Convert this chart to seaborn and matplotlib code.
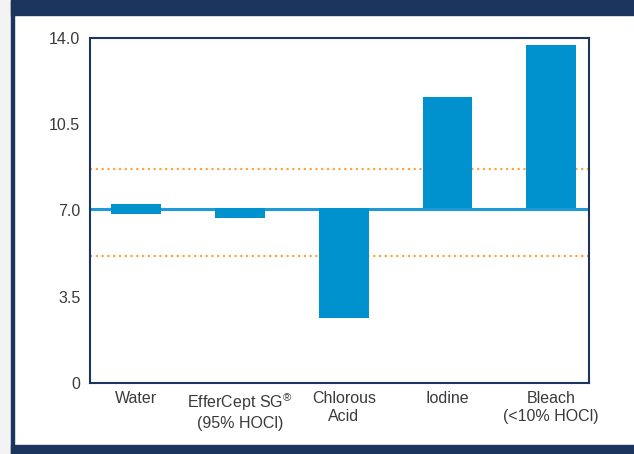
import matplotlib
matplotlib.use("Agg")
import matplotlib.pyplot as plt
from matplotlib.patches import Rectangle
import seaborn as sns
import pandas as pd

categories = ["Water", "EfferCept SG$^{®}$\n(95% HOCl)", "Chlorous\nAcid", "Iodine", "Bleach\n(<10% HOCl)"]
bar_low = [6.87, 6.71, 2.65, 7.10, 7.10]
bar_high = [7.26, 7.10, 7.10, 11.6, 13.7]
neutral_ph = 7.05
band_upper = 8.67
band_lower = 5.15
y_ticks = [0, 3.5, 7.0, 10.5, 14.0]
y_tick_labels = ["0", "3.5", "7.0", "10.5", "14.0"]

NAVY = "#1b355f"
BAR = "#0092cf"
LINE = "#1f9ad6"
ORANGE = "#f5a843"
TEXT = "#3a3a3a"

sns.set_theme(style="white")
plt.rcParams["font.family"] = ["Liberation Sans", "DejaVu Sans"]
plt.rcParams["mathtext.fontset"] = "custom"
plt.rcParams["mathtext.rm"] = "Liberation Sans"
plt.rcParams["mathtext.it"] = "Liberation Sans"

df = pd.DataFrame({"cat": categories,
                   "span": [h - l for l, h in zip(bar_low, bar_high)]})

fig = plt.figure(figsize=(6.34, 4.54), dpi=100, facecolor="white")
W, H = 634, 454
# frame decorations
fig.patches.append(Rectangle((0, 0), 11 / W, 1, transform=fig.transFigure, color="#f3f3f3", zorder=0))
fig.patches.append(Rectangle((11 / W, 0), 3 / W, 1, transform=fig.transFigure, color=NAVY, zorder=0))
fig.patches.append(Rectangle((11 / W, 1 - 15 / H), 1, 15 / H, transform=fig.transFigure, color=NAVY, zorder=0))
fig.patches.append(Rectangle((11 / W, 0), 1, 9 / H, transform=fig.transFigure, color=NAVY, zorder=0))

ax = fig.add_axes([90 / W, (H - 383) / H, 499 / W, 345 / H])
sns.barplot(data=df, x="cat", y="span", color=BAR, saturation=1, width=0.48, ax=ax, zorder=3)
for patch, low in zip(ax.patches, bar_low):
    patch.set_y(low)
    patch.set_edgecolor("none")

ax.axhline(neutral_ph, color=LINE, lw=2.2, zorder=2)
ax.axhline(band_upper, color=ORANGE, lw=1.6, ls=(0, (1, 1.6)), zorder=1)
ax.axhline(band_lower, color=ORANGE, lw=1.6, ls=(0, (1, 1.6)), zorder=1)

ax.set_xlim(-0.447, 4.364)
ax.set_ylim(0, 14)
ax.set_yticks(y_ticks)
ax.set_yticklabels(y_tick_labels)
ax.set_xlabel("")
ax.set_ylabel("")
ax.tick_params(axis="both", length=0, labelsize=11.5, colors=TEXT)
ax.tick_params(axis="y", pad=7)
ax.tick_params(axis="x", pad=6)
for lab in ax.get_xticklabels():
    lab.set_linespacing(1.25)
for s in ax.spines.values():
    s.set_visible(True)
    s.set_color(NAVY)
    s.set_linewidth(1.5)

fig.savefig("out.png", dpi=100, facecolor="white")
